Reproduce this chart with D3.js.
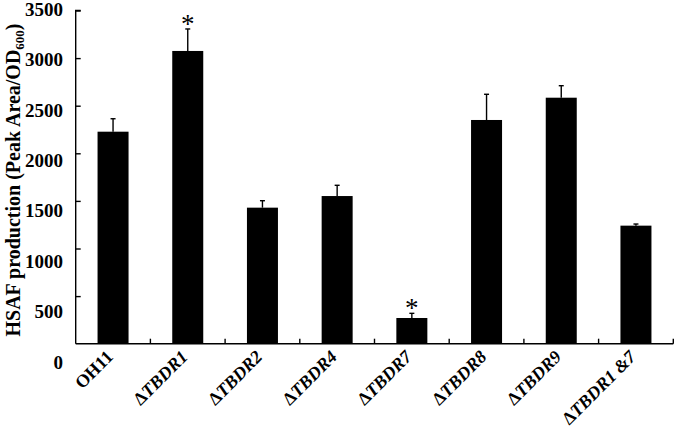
<html>
  <head>
    <meta charset="utf-8">
    <title>HSAF production</title>
    <style>
      body {
          margin: 0;
          background: #fff;
      }
      svg text {
          font-family: "Liberation Serif", "Times New Roman", serif;
          font-weight: bold;
          fill: #000;
      }
    </style>
  </head>
  <body>
    <svg id="chart" width="675" height="441"></svg>
    <script src="https://cdn.jsdelivr.net/npm/d3@7/dist/d3.min.js"></script>
    <script type="text/javascript">
// values
var strains = ["OH11", "TBDR1", "TBDR2", "TBDR4", "TBDR7", "TBDR8", "TBDR9", "TBDR1 &7"];
var deleted = [false, true, true, true, true, true, true, true]; // gets the delta sign
var hsaf = [2227, 3075, 1429, 1551, 270, 2350, 2584, 1240];
var errs = [136, 231, 73, 113, 49, 270, 126, 17];
var starred = [false, true, false, false, true, false, false, false];
var yTicks = [0, 500, 1000, 1500, 2000, 2500, 3000, 3500];

(function() {
var rows = strains.map((s, i) => ({
  name: s, delta: deleted[i], value: hsaf[i], err: errs[i], star: starred[i]
}));

var svg = d3.select("#chart");
// plot box ("top" is taken by window.top, hence the names)
var mLeft = 75.7, mRight = 673.3, mTop = 10.5, mBottom = 343.7;

var x = d3.scaleBand()
    .domain(strains)
    .range([mLeft, mRight])
    .padding(0);

var y = d3.scaleLinear()
    .domain([0, 3500])
    .range([mBottom, mTop]);

// tick labels sit a bit off their ticks in the original, spread a little wider
var yLab = d3.scaleLinear()
    .domain([0, 3500])
    .range([362, 9]);

var barW = x.bandwidth() * 0.415;
var mid = d => x(d.name) + x.bandwidth() / 2;

// bars
svg.selectAll(".bar")
  .data(rows)
  .enter().append("rect")
    .attr("class", "bar")
    .attr("x", d => mid(d) - barW / 2)
    .attr("y", d => y(d.value))
    .attr("width", barW)
    .attr("height", d => mBottom - y(d.value))
    .style("fill", "#000");

// error bars, upper half only
var eb = svg.selectAll(".err")
  .data(rows)
  .enter().append("g")
    .attr("class", "err");
eb.append("line")
    .attr("x1", mid).attr("x2", mid)
    .attr("y1", d => y(d.value))
    .attr("y2", d => y(d.value + d.err));
eb.append("line")
    .attr("x1", d => mid(d) - 2.5)
    .attr("x2", d => mid(d) + 2.5)
    .attr("y1", d => y(d.value + d.err))
    .attr("y2", d => y(d.value + d.err));

// significance stars
svg.selectAll(".star")
  .data(rows.filter(d => d.star))
  .enter().append("text")
    .attr("class", "star")
    .attr("x", mid)
    .attr("y", d => y(d.value + d.err) + 4)
    .attr("text-anchor", "middle")
    .style("font-weight", "normal")
    .style("font-size", "27px")
    .text("*");

// y axis, ticks point inwards
var yAxis = svg.append("g")
    .attr("transform", "translate(" + mLeft + ",0)")
    .call(d3.axisRight(y).tickValues(yTicks).tickSize(5).tickFormat(""));
yAxis.select(".domain").attr("d", "M5," + mTop + "H0V" + mBottom);
yAxis.selectAll(".tick line").filter(d => d === 0).remove();

svg.selectAll(".ylab")
  .data(yTicks)
  .enter().append("text")
    .attr("class", "ylab")
    .attr("x", 63)
    .attr("y", d => yLab(d))
    .attr("dy", "0.35em")
    .attr("text-anchor", "end")
    .style("font-size", "19px")
    .text(d => d);

// x axis, ticks at category edges pointing up
var edges = strains.map(s => x(s)).concat([mRight]);
var xAxis = svg.append("g");
xAxis.append("line")
    .attr("x1", mLeft).attr("x2", mRight)
    .attr("y1", mBottom).attr("y2", mBottom);
xAxis.selectAll(".xt")
  .data(edges.slice(1))
  .enter().append("line")
    .attr("class", "xt")
    .attr("x1", d => d).attr("x2", d => d)
    .attr("y1", mBottom).attr("y2", mBottom - 5);

svg.selectAll(".domain, line")
    .style("stroke", "#000")
    .style("stroke-width", 1.4)
    .style("fill", "none");

// category labels, rotated 45 degrees about their end point
var xl = svg.selectAll(".xlab")
  .data(rows)
  .enter().append("text")
    .attr("class", "xlab")
    .attr("text-anchor", "end")
    .attr("transform", d => "translate(" + (mid(d) + 1) + ",358) rotate(-45)")
    .style("font-size", "18px");
xl.filter(d => d.delta).append("tspan").text("\u0394");
xl.append("tspan")
    .style("font-style", d => d.delta ? "italic" : "normal")
    .text(d => d.name);

// y title
var title = svg.append("text")
    .attr("transform", "translate(19.5,180) rotate(-90)")
    .attr("text-anchor", "middle")
    .style("font-size", "20px");
title.append("tspan").text("HSAF production (Peak Area/OD");
title.append("tspan").attr("dy", 4).style("font-size", "13px").text("600");
title.append("tspan").attr("dy", -4).text(")");
})();
    </script>
  </body>
</html>
